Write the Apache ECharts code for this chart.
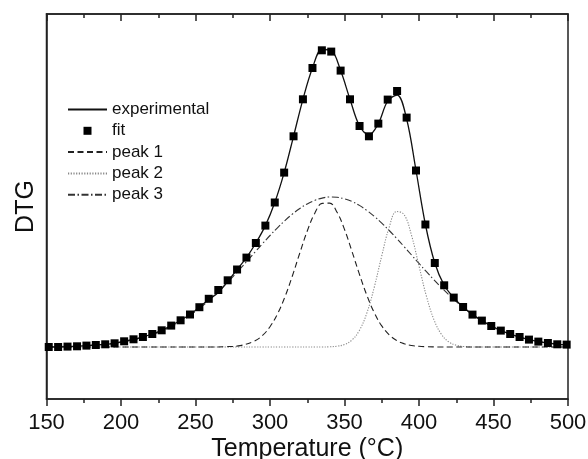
<!DOCTYPE html>
<html><head><meta charset="utf-8">
<script src="https://cdn.jsdelivr.net/npm/echarts@6/dist/echarts.min.js"></script>
<style>html,body{margin:0;padding:0;background:#fff}#c{width:588px;height:459px}</style>
</head><body><div id="c"></div><script>
const xTicks = [150, 200, 250, 300, 350, 400, 450, 500];

const fitTemp = [151.5,157.8,164.1,170.5,176.8,183.1,189.4,195.7,202.1,208.4,214.7,221.0,227.3,233.7,240.0,246.3,252.6,258.9,265.3,271.6,277.9,284.2,290.5,296.9,303.2,309.5,315.8,322.1,328.5,334.8,341.1,347.4,353.7,360.1,366.4,372.7,379.0,385.3,391.7,398.0,404.3,410.6,416.9,423.3,429.6,435.9,442.2,448.5,454.9,461.2,467.5,473.8,480.1,486.5,492.8,499.1];
const fitDTG = [0.00,0.00,0.004,0.007,0.014,0.02,0.027,0.037,0.057,0.077,0.10,0.13,0.167,0.214,0.267,0.325,0.398,0.482,0.57,0.667,0.775,0.894,1.04,1.214,1.445,1.744,2.107,2.477,2.79,2.967,2.954,2.764,2.477,2.21,2.107,2.234,2.474,2.56,2.294,1.765,1.225,0.84,0.617,0.494,0.40,0.324,0.264,0.21,0.164,0.13,0.10,0.074,0.054,0.04,0.027,0.024];

const expTemp = [150,151.5,157.8,164.1,170.5,176.8,183.1,189.4,195.7,202.1,208.4,214.7,221.0,227.3,233.7,240.0,246.3,252.6,258.9,265.3,271.6,277.9,284.2,290.5,296.9,303.2,309.5,315.8,322.1,328.5,334.8,341.1,347.4,353.7,360.1,366.4,372.7,379.0,385.3,391.7,398.0,404.3,410.6,416.9,423.3,429.6,435.9,442.2,448.5,454.9,461.2,467.5,473.8,480.1,486.5,492.8,499.1,500];
const expDTG = [0.00,0.00,0.00,0.004,0.007,0.014,0.02,0.027,0.037,0.057,0.077,0.10,0.13,0.167,0.214,0.267,0.325,0.398,0.475,0.545,0.655,0.775,0.894,1.04,1.214,1.445,1.744,2.107,2.477,2.79,2.975,2.965,2.764,2.477,2.21,2.12,2.234,2.46,2.52,2.28,1.765,1.225,0.84,0.617,0.494,0.40,0.324,0.264,0.21,0.164,0.13,0.10,0.074,0.054,0.04,0.027,0.024,0.023];

const peakTemp = [150,170,190,200,210,220,230,240,250,260,270,280,290,295,300,305,310,315,320,325,330,335,340,345,350,355,360,365,370,375,380,385,390,395,400,405,410,415,420,425,430,440,450,460,470,480,490,500];
const peak1 = [0,0,0,0,0,0,0,0,0,0,0.003,0.014,0.062,0.116,0.203,0.330,0.501,0.710,0.940,1.160,1.336,1.436,1.439,1.347,1.176,0.957,0.728,0.517,0.342,0.211,0.122,0.065,0.033,0.015,0.007,0.003,0.001,0,0,0,0,0,0,0,0,0,0,0];
const peak2 = [0,0,0,0,0,0,0,0,0,0,0,0,0,0,0,0,0,0,0,0,0,0,0.002,0.008,0.025,0.070,0.166,0.340,0.599,0.912,1.197,1.355,1.324,1.115,0.810,0.507,0.274,0.128,0.051,0.018,0.005,0,0,0,0,0,0,0];
const peak3 = [0.003,0.010,0.029,0.048,0.077,0.119,0.177,0.256,0.356,0.479,0.623,0.783,0.950,1.034,1.115,1.192,1.264,1.329,1.385,1.431,1.466,1.489,1.500,1.497,1.482,1.455,1.416,1.365,1.306,1.239,1.165,1.086,1.004,0.920,0.836,0.753,0.672,0.596,0.523,0.455,0.393,0.285,0.200,0.136,0.089,0.056,0.034,0.020];

const legendNames = ['experimental', 'fit', 'peak 1', 'peak 2', 'peak 3'];

const pair = (xs, ys) => xs.map((x, i) => [x, ys[i]]);
const FONT = '"Liberation Sans", Arial, Helvetica, sans-serif';
const AX = '#222';
const hiddenSymbol = { color: 'rgba(0,0,0,0)', opacity: 0, borderWidth: 0 };

const chart = echarts.init(document.getElementById('c'), null, { renderer: 'canvas' });
const xBase = {
  type: 'value', min: xTicks[0], max: xTicks[xTicks.length - 1], interval: 50,
  axisLine: { show: true, onZero: false, lineStyle: { color: AX, width: 1.5 } },
  axisTick: { show: true, length: 7, lineStyle: { color: AX, width: 1.5 } },
  minorTick: { show: true, splitNumber: 2, length: 4, lineStyle: { color: AX, width: 1.5 } },
  splitLine: { show: false }, minorSplitLine: { show: false }
};
chart.setOption({
  animation: false,
  backgroundColor: '#fff',
  grid: { left: 46.5, right: 20, top: 14, bottom: 60, outerBoundsMode: 'none', containLabel: false,
          show: true, borderColor: AX, borderWidth: 1.5, backgroundColor: 'transparent' },
  legend: {
    data: legendNames.map(n => n === 'fit' ? { name: n } : { name: n, itemStyle: hiddenSymbol }),
    orient: 'vertical', left: 67, top: 101, padding: 0,
    itemWidth: 39, itemHeight: 10, itemGap: 4.3,
    textStyle: { fontFamily: FONT, fontSize: 17, color: '#111', lineHeight: 17 }
  },
  xAxis: [
    Object.assign({}, xBase, {
      position: 'bottom',
      axisTick: Object.assign({}, xBase.axisTick, { inside: false }),
      axisLabel: { show: true, fontFamily: FONT, fontSize: 22, color: '#111', margin: 13 },
      name: 'Temperature (°C)', nameLocation: 'middle', nameGap: 38, nameMoveOverlap: false,
      nameTextStyle: { fontFamily: FONT, fontSize: 25, color: '#111' }
    }),
    Object.assign({}, xBase, {
      position: 'top',
      axisTick: Object.assign({}, xBase.axisTick, { inside: true }),
      axisLabel: { show: false }
    })
  ],
  yAxis: {
    type: 'value', min: -0.52, max: 3.33,
    axisLine: { show: true, lineStyle: { color: AX, width: 1.5 } },
    axisTick: { show: false }, axisLabel: { show: false }, splitLine: { show: false },
    name: 'DTG', nameLocation: 'middle', nameGap: 8,
    nameTextStyle: { fontFamily: FONT, fontSize: 25, color: '#111' }
  },
  series: [
    { name: 'peak 3', type: 'line', data: pair(peakTemp, peak3), smooth: 0.4, symbol: 'none',
      lineStyle: { color: '#333', width: 1.1, type: [7, 2.5, 1.5, 2.5] }, itemStyle: { color: '#333' }, z: 2 },
    { name: 'peak 2', type: 'line', data: pair(peakTemp, peak2), smooth: 0.4, symbol: 'none',
      lineStyle: { color: '#888', width: 1.1, type: [1.2, 1.5] }, itemStyle: { color: '#888' }, z: 2 },
    { name: 'peak 1', type: 'line', data: pair(peakTemp, peak1), smooth: 0.4, symbol: 'none',
      lineStyle: { color: '#222', width: 1.1, type: [6, 3.5] }, itemStyle: { color: '#222' }, z: 2 },
    { name: 'experimental', type: 'line', data: pair(expTemp, expDTG), smooth: 0.35, symbol: 'none',
      lineStyle: { color: '#111', width: 1.3, type: 'solid' }, itemStyle: { color: '#111' }, z: 3 },
    { name: 'fit', type: 'line', data: pair(fitTemp, fitDTG), symbol: 'rect', symbolSize: 8,
      showSymbol: true, showAllSymbol: true, lineStyle: { opacity: 0, width: 0 },
      itemStyle: { color: '#000' }, z: 4 }
  ]
});
</script></body></html>
